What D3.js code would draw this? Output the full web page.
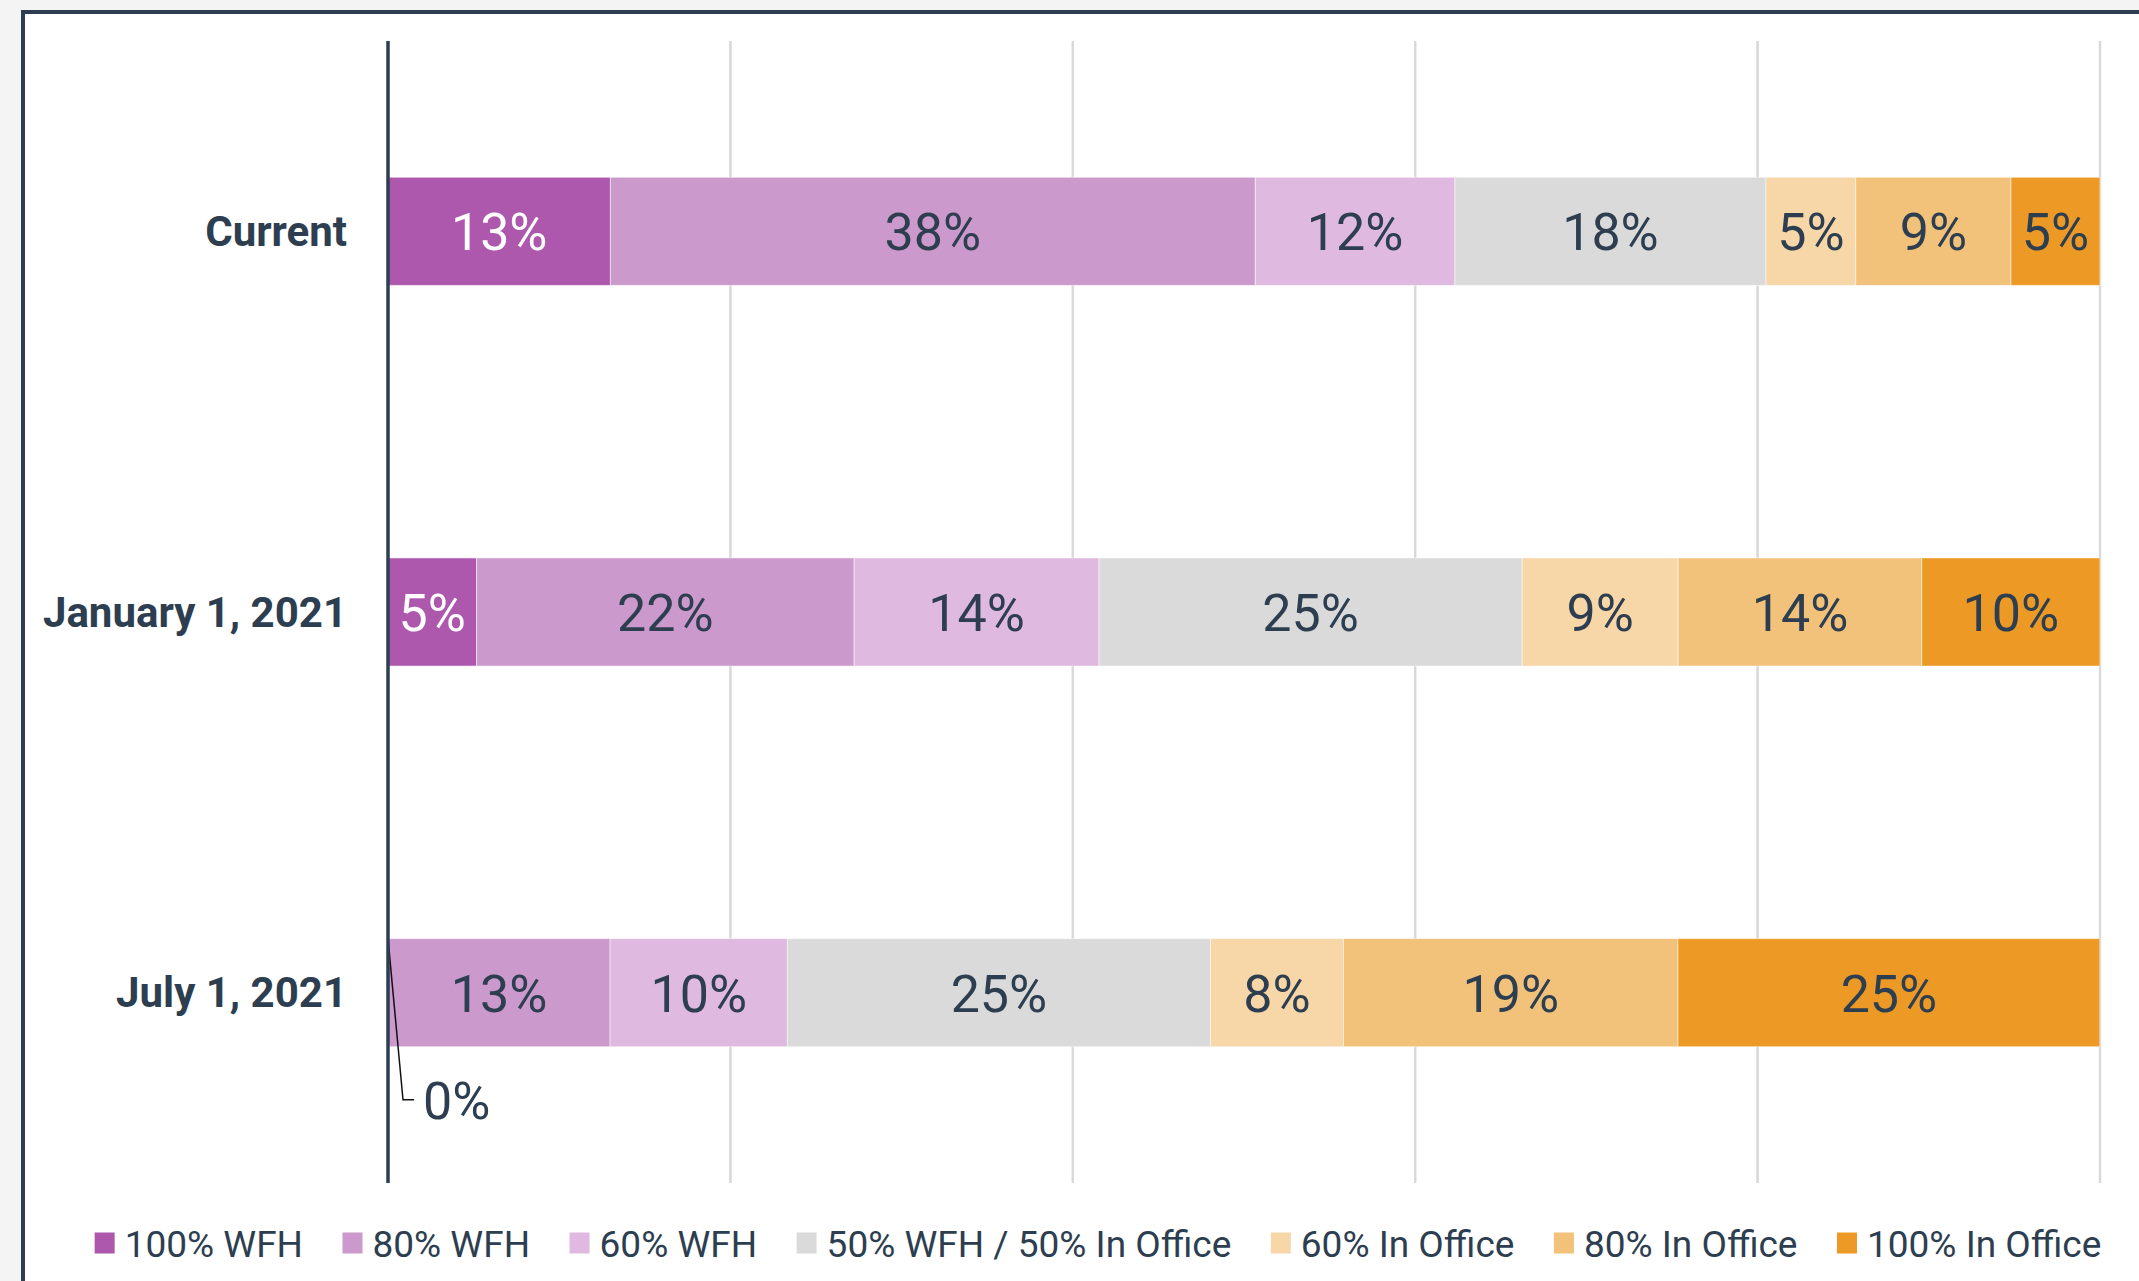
<!DOCTYPE html>
<html>
<head>
<meta charset="utf-8">
<script src="https://cdn.jsdelivr.net/npm/d3@7"></script>
<style>
  html, body { margin: 0; padding: 0; background: #f4f4f4; }
  svg { display: block; }
  text { font-family: Roboto, "Noto Sans", sans-serif; }
</style>
</head>
<body>
<svg id="chart" width="2139" height="1281"></svg>
<script>
// ---- data ----
const categories = ["Current", "January 1, 2021", "July 1, 2021"];
const seriesNames = ["100% WFH", "80% WFH", "60% WFH", "50% WFH / 50% In Office", "60% In Office", "80% In Office", "100% In Office"];
const wfh100   = [12.99, 5.17, 0];
const wfh80    = [37.67, 22.06, 12.97];
const wfh60    = [11.66, 14.30, 10.36];
const half     = [18.17, 24.72, 24.71];
const office60 = [5.24, 9.11, 7.77];
const office80 = [9.07, 14.23, 19.54];
const office100= [5.20, 10.41, 24.64];
const valueLabels = [
  ["13%", "38%", "12%", "18%", "5%", "9%", "5%"],
  ["5%", "22%", "14%", "25%", "9%", "14%", "10%"],
  ["0%", "13%", "10%", "25%", "8%", "19%", "25%"]
];
const xTicks = [0, 20, 40, 60, 80, 100];
const colors = ["#ad57ad", "#cc99cc", "#dfb9df", "#dadada", "#f7d6a8", "#f2c27b", "#ec9a25"];
const labelColors = ["#ffffff", "#2d3e50", "#2d3e50", "#2d3e50", "#2d3e50", "#2d3e50", "#2d3e50"];

const seriesValues = [wfh100, wfh80, wfh60, half, office60, office80, office100];
const rows = categories.map((c, i) => {
  const r = { cat: c };
  seriesNames.forEach((s, j) => r[s] = seriesValues[j][i]);
  return r;
});

// ---- layout ----
const dark = "#2d3e50";
const svg = d3.select("#chart");
const plot = { left: 388, right: 2100, top: 41, bottom: 1183 };

// panel
svg.append("rect").attr("x", 23).attr("y", 12).attr("width", 2300).attr("height", 1500)
  .attr("fill", "#fff").attr("stroke", dark).attr("stroke-width", 4);

const x = d3.scaleLinear().domain([0, 100]).range([plot.left, plot.right]);
const y = d3.scaleBand().domain(categories).range([plot.top, plot.bottom]).paddingInner(0.716).paddingOuter(0.358);

// gridlines
svg.append("g").selectAll("line").data(xTicks.filter(t => t > 0)).join("line")
  .attr("x1", d => x(d)).attr("x2", d => x(d))
  .attr("y1", plot.top).attr("y2", plot.bottom)
  .attr("stroke", "#d9d9d9").attr("stroke-width", 2.5);

// stacks
const stack = d3.stack().keys(seriesNames)(rows);
const g = svg.append("g");
stack.forEach((layer, j) => {
  g.append("g").selectAll("rect").data(layer).join("rect")
    .attr("x", d => x(d[0]))
    .attr("y", d => y(d.data.cat))
    .attr("width", d => x(d[1]) - x(d[0]))
    .attr("height", y.bandwidth())
    .attr("fill", colors[j])
    .attr("stroke", "rgba(255,255,255,0.5)").attr("stroke-width", 1);
});

// value labels
stack.forEach((layer, j) => {
  layer.forEach((d, i) => {
    const w = x(d[1]) - x(d[0]);
    const cy = y(d.data.cat) + y.bandwidth() / 2 + 1.5;
    if (w > 1) {
      g.append("text")
        .attr("x", (x(d[0]) + x(d[1])) / 2).attr("y", cy)
        .attr("text-anchor", "middle").attr("dominant-baseline", "central")
        .attr("font-size", 52).attr("fill", labelColors[j])
        .text(valueLabels[i][j]);
    } else {
      // callout for zero-width segment
      const x0 = x(d[0]);
      const top = y(d.data.cat);
      const ly = top + y.bandwidth() + 53;
      g.append("path")
        .attr("d", `M${x0},${top} L${x0 + 15},${ly} L${x0 + 26},${ly}`)
        .attr("fill", "none").attr("stroke", "#111").attr("stroke-width", 1.5);
      g.append("text")
        .attr("x", x0 + 35).attr("y", ly + 2)
        .attr("dominant-baseline", "central")
        .attr("font-size", 52).attr("fill", dark)
        .text(valueLabels[i][j]);
    }
  });
});

// zero axis line
svg.append("line").attr("x1", x(0)).attr("x2", x(0))
  .attr("y1", plot.top).attr("y2", plot.bottom)
  .attr("stroke", dark).attr("stroke-width", 3.5);

// category labels
svg.append("g").selectAll("text").data(categories).join("text")
  .attr("x", x(0) - 41).attr("y", d => y(d) + y.bandwidth() / 2)
  .attr("text-anchor", "end").attr("dominant-baseline", "central")
  .attr("font-size", 42).attr("font-weight", "bold").attr("fill", dark)
  .text(d => d);

// legend
const legend = svg.append("g");
const items = seriesNames.map((s, j) => {
  const it = legend.append("g");
  it.append("rect").attr("width", 20).attr("height", 21).attr("y", -10.5).attr("fill", colors[j]);
  const t = it.append("text").attr("x", 30).attr("y", 1)
    .attr("dominant-baseline", "central").attr("font-size", 37).attr("fill", dark).text(s);
  return { g: it, w: 30 + t.node().getComputedTextLength() };
});
const gap = 39.5;
const total = d3.sum(items, d => d.w) + gap * (items.length - 1);
let cx = 1098 - total / 2;
items.forEach(it => {
  it.g.attr("transform", `translate(${cx},1243)`);
  cx += it.w + gap;
});
</script>
</body>
</html>
